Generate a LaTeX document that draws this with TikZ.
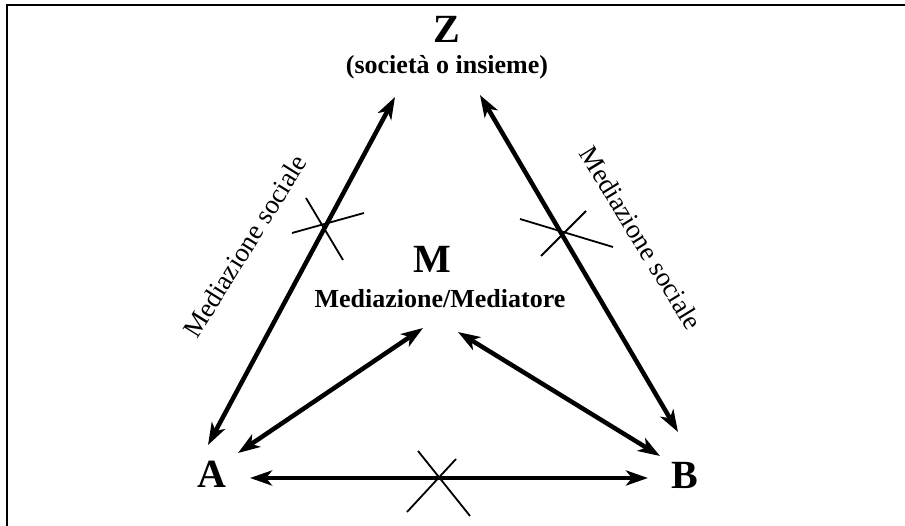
\documentclass[tikz,border=0pt]{standalone}
\usepackage{fontspec}
\setmainfont{Liberation Serif}
\usetikzlibrary{arrows.meta}

\begin{document}
\begin{tikzpicture}[x=1pt, y=-1pt, >={Stealth[length=22pt, width=15pt, inset=6pt]},
        big/.style={font=\bfseries\fontsize{40}{44}\selectfont, anchor=base, inner sep=0pt},
        sub/.style={font=\bfseries\fontsize{26}{30}\selectfont, anchor=base, inner sep=0pt},
        side/.style={font=\fontsize{27}{30}\selectfont, inner sep=0pt},
        link/.style={<->, line width=4.5pt},
        bar/.style={line width=1.8pt}]
        \useasboundingbox (0,0) rectangle (905,526);
        % Frame
        \draw[line width=2.5pt] (7,526) -- (7,5) -- (905,5);

        % Nodes
        \node[big] (Z) at (447,43) {Z};
        \node[sub] (Zsub) at (447,74) {(società o insieme)};
        \node[big] (M) at (432,273) {M};
        \node[sub] (Msub) at (440,308) {Mediazione/Mediatore};
        \node[big] (A) at (212,487) {A};
        \node[big] (B) at (685,488) {B};
        \node[side, rotate=58] (ZAlabel) at (245,246) {Mediazione sociale};
        \node[side, rotate=-58.5] (ZBlabel) at (641,238) {Mediazione sociale};

        % Arrow ends
        \coordinate (ZtoA) at (395,97);
        \coordinate (AtoZ) at (208,445);
        \coordinate (ZtoB) at (480,95);
        \coordinate (BtoZ) at (678,432);
        \coordinate (AtoB) at (250,478);
        \coordinate (BtoA) at (648,478);
        \coordinate (MtoA) at (423,328);
        \coordinate (AtoM) at (238,453);
        \coordinate (MtoB) at (458,332);
        \coordinate (BtoM) at (660,456);

        % Double arrows
        \draw[link] (AtoZ) -- (ZtoA);
        \draw[link] (BtoZ) -- (ZtoB);
        \draw[link] (AtoB) -- (BtoA);
        \draw[link] (AtoM) -- (MtoA);
        \draw[link] (BtoM) -- (MtoB);

        % Crosses
        \draw[bar] (306,198) -- (343,260);
        \draw[bar] (292,233) -- (364,213);
        \draw[bar] (520,219) -- (613,247);
        \draw[bar] (541,256) -- (586,211);
        \draw[bar] (418,451) -- (470,516);
        \draw[bar] (407,512) -- (456,459);
    \end{tikzpicture}
\end{document}
